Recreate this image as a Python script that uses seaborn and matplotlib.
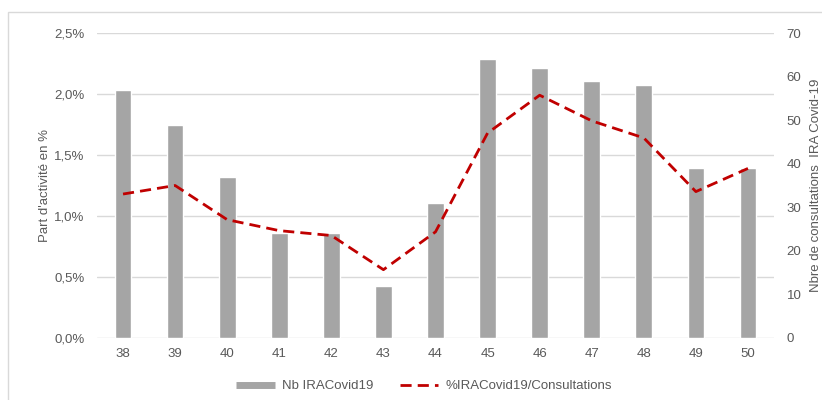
import numpy as np
import pandas as pd
import matplotlib
matplotlib.use("Agg")
import matplotlib.pyplot as plt
from matplotlib.lines import Line2D
from matplotlib.patches import Rectangle
import seaborn as sns

# Weekly data
weeks = ["38", "39", "40", "41", "42", "43", "44", "45", "46", "47", "48", "49", "50"]
nb_ira = [57, 49, 37, 24, 24, 12, 31, 64, 62, 59, 58, 39, 39]
pct_ira = [1.18, 1.25, 0.97, 0.88, 0.84, 0.56, 0.87, 1.68, 1.99, 1.78, 1.64, 1.20, 1.39]

pct_ticks = [0.0, 0.5, 1.0, 1.5, 2.0, 2.5]
pct_labels = ["0,0%", "0,5%", "1,0%", "1,5%", "2,0%", "2,5%"]
cnt_ticks = [0, 10, 20, 30, 40, 50, 60, 70]

bar_color = "#A5A5A5"
line_color = "#C00000"
grid_color = "#D9D9D9"
text_color = "#595959"

sns.set_theme(style="white")
plt.rcParams["font.family"] = ["Liberation Sans", "DejaVu Sans"]
plt.rcParams["font.size"] = 9.5

fig = plt.figure(figsize=(8.22, 4.0), dpi=100)
ax_cnt = fig.add_axes([97 / 822, 62 / 400, 677 / 822, 305 / 400])
ax_pct = ax_cnt.twinx()

pct_max, cnt_max = 2.5, 70
ax_cnt.set_ylim(0, cnt_max)
ax_pct.set_ylim(0, pct_max)

# Horizontal grid follows the percentage ticks, drawn behind the bars
for t in pct_ticks:
    ax_cnt.axhline(t * cnt_max / pct_max, color=grid_color, lw=1, zorder=0)

df = pd.DataFrame({"week": weeks, "nb": nb_ira, "pct": pct_ira})
sns.barplot(data=df, x="week", y="nb", ax=ax_cnt, color=bar_color,
            width=0.32, saturation=1, zorder=2)
sns.lineplot(x=np.arange(len(weeks)), y=df["pct"], ax=ax_pct, color=line_color,
             lw=2, dashes=False, zorder=3)
ax_pct.lines[0].set_dashes((4, 2.2))

ax_cnt.set_xlim(-0.5, len(weeks) - 0.5)

# Count axis on the right, percentage axis on the left
ax_cnt.yaxis.tick_right()
ax_cnt.yaxis.set_label_position("right")
ax_pct.yaxis.tick_left()
ax_pct.yaxis.set_label_position("left")

ax_cnt.set_yticks(cnt_ticks)
ax_cnt.set_yticklabels([str(v) for v in cnt_ticks])
ax_pct.set_yticks(pct_ticks)
ax_pct.set_yticklabels(pct_labels)

for a in (ax_cnt, ax_pct):
    for s in a.spines.values():
        s.set_visible(False)
    a.tick_params(axis="both", length=0, colors=text_color, labelsize=9.5)
    a.set_xlabel("")
ax_cnt.tick_params(axis="x", pad=7)
ax_cnt.tick_params(axis="y", pad=9)
ax_pct.tick_params(axis="y", pad=9)

ax_pct.set_ylabel("Part d'activité en %", color=text_color, fontsize=9.5, labelpad=2)
ax_cnt.set_ylabel("Nbre de consultations  IRA Covid-19", color=text_color,
                  fontsize=9.5, labelpad=6)

handles = [
    Line2D([0], [0], color=bar_color, lw=5, solid_capstyle="butt"),
    Line2D([0], [0], color=line_color, lw=2, dashes=(4, 2.2)),
]
fig.legend(handles, ["Nb IRACovid19", "%IRACovid19/Consultations"],
           loc="center", bbox_to_anchor=(0.516, 0.035), ncol=2, frameon=False,
           handlelength=2.9, handletextpad=0.55, columnspacing=2.0,
           fontsize=9.5, labelcolor=text_color)

fig.add_artist(Rectangle((8 / 822, -0.1), 1.2, 0.1 + 388 / 400,
                         transform=fig.transFigure, fill=False,
                         edgecolor=grid_color, lw=1))

fig.savefig("out.png", dpi=100)
